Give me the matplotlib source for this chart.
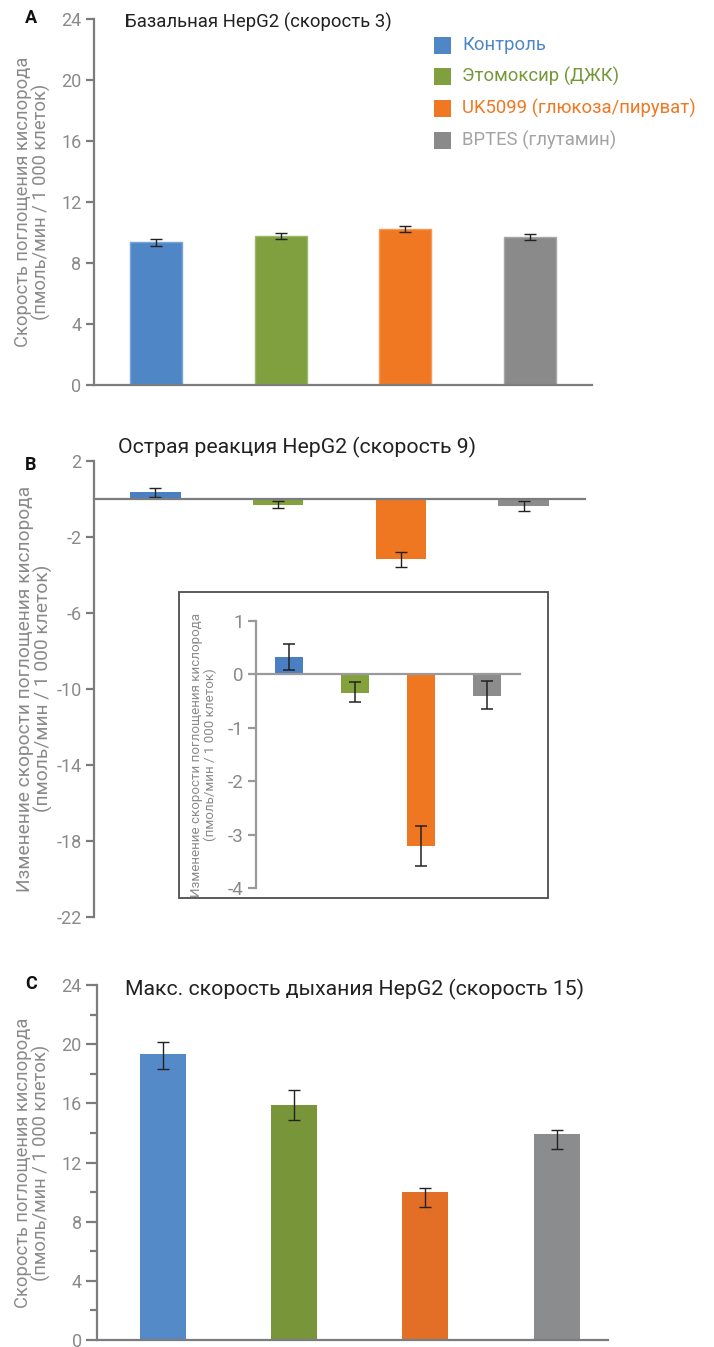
import matplotlib
matplotlib.use('Agg')
import matplotlib.pyplot as plt
from matplotlib import font_manager
from matplotlib.patches import Rectangle

# ---------------- data ----------------
categories = ['Контроль', 'Этомоксир (ДЖК)', 'UK5099 (глюкоза/пируват)', 'BPTES (глутамин)']

basal_values = [9.35, 9.80, 10.23, 9.72]
basal_err_low = [0.26, 0.22, 0.20, 0.20]
basal_err_high = [0.22, 0.18, 0.17, 0.17]

acute_values = [0.33, -0.34, -3.21, -0.40]
acute_err_low = [0.24, 0.17, 0.37, 0.24]
acute_err_high = [0.245, 0.20, 0.38, 0.27]

max_values = [19.34, 15.86, 10.00, 13.93]
max_err_low = [1.04, 1.01, 1.00, 1.03]
max_err_high = [0.83, 1.07, 0.28, 0.27]

title_a = 'Базальная HepG2 (скорость 3)'
title_b = 'Острая реакция HepG2 (скорость 9)'
title_c = 'Макс. скорость дыхания HepG2 (скорость 15)'
ylabel_rate = 'Скорость поглощения кислорода\n(пмоль/мин / 1 000 клеток)'
ylabel_change = 'Изменение скорости поглощения кислорода\n(пмоль/мин / 1 000 клеток)'

ticks_a = [0, 4, 8, 12, 16, 20, 24]
ticks_b = [2, -2, -6, -10, -14, -18, -22]
ticks_inset = [1, 0, -1, -2, -3, -4]
ticks_c = [0, 4, 8, 12, 16, 20, 24]

# ---------------- style ----------------
colors_a = ['#4f86c6', '#80a040', '#f07822', '#8a8a8a']
edges_a = ['#7aa3d6', '#9cb86a', '#f59a58', '#a6a6a6']
colors_b = ['#4a80c2', '#84a23c', '#f07722', '#8c8c8c']
colors_c = ['#558ac8', '#78953a', '#e36e25', '#8a8c8e']
legend_text_colors = ['#4f86c6', '#77983a', '#f07822', '#a3a3a3']

names = {f.name for f in font_manager.fontManager.ttflist}
base_font = 'Roboto' if 'Roboto' in names else 'DejaVu Sans'

plt.rcParams['font.family'] = [base_font, 'DejaVu Sans']
plt.rcParams['axes.unicode_minus'] = False

W, H = 714, 1347
fig = plt.figure(figsize=(W / 100, H / 100), dpi=100)

SPINE = '#7b7c7f'
TICKLAB = '#8a8a8a'


def ax_px(left, top, right, bottom):
    return fig.add_axes([left / W, 1 - bottom / H, (right - left) / W, (bottom - top) / H])


def style_axis(ax, fs=13, spine_w=1.6, color=SPINE, labcolor=TICKLAB, ticklen=6):
    for s in ['top', 'right']:
        ax.spines[s].set_visible(False)
    for s in ['left', 'bottom']:
        ax.spines[s].set_color(color)
        ax.spines[s].set_linewidth(spine_w)
    ax.tick_params(axis='y', colors=color, labelcolor=labcolor, labelsize=fs,
                   length=ticklen, width=spine_w, direction='out', pad=3)
    ax.tick_params(axis='x', bottom=False, labelbottom=False)
    ax.set_facecolor('none')


x = list(range(len(categories)))

# ---------------- Panel A ----------------
axA = ax_px(94, 19, 592, 385)
axA.bar(x, basal_values, width=0.42, color=colors_a, edgecolor=edges_a, linewidth=1.0, zorder=2)
axA.errorbar(x, basal_values, yerr=[basal_err_low, basal_err_high], fmt='none',
             ecolor='#222222', elinewidth=1.0, capsize=4.3, capthick=1.0, zorder=3)
axA.set_xlim(-0.5, 3.5)
axA.set_ylim(0, 24)
axA.set_yticks(ticks_a)
style_axis(axA)
axA.set_ylabel(ylabel_rate, fontsize=13.2, color=TICKLAB, linespacing=1.0)
axA.yaxis.set_label_coords(-(94 - 51) / 498, 0.5)
fig.text(125 / W, 1 - 22 / H, title_a, fontsize=13.3, color='#222222', va='center', ha='left')
fig.text(25 / W, 1 - 18 / H, 'A', fontsize=13, fontweight='bold', color='#111111', va='center', ha='left')

# legend (manual)
leg_rows = [45, 76, 108, 140]
for cat, col, tcol, yy in zip(categories, colors_a, legend_text_colors, leg_rows):
    fig.patches.append(Rectangle((434 / W, 1 - (yy + 8.5) / H), 17 / W, 17 / H,
                                 transform=fig.transFigure, facecolor=col, edgecolor='none'))
    fig.text(462 / W, 1 - yy / H, cat, fontsize=13.3, color=tcol, va='center', ha='left')

# ---------------- Panel B ----------------
axB = ax_px(94, 460.5, 585, 916.5)
axB.bar(x, acute_values, width=0.41, color=colors_b, zorder=2)
axB.errorbar(x, acute_values, yerr=[acute_err_low, acute_err_high], fmt='none',
             ecolor='#222222', elinewidth=1.0, capsize=4.3, capthick=1.0, zorder=3)
axB.set_xlim(-0.5, 3.5)
axB.set_ylim(-22, 2)
axB.set_yticks(ticks_b)
style_axis(axB)
axB.spines['bottom'].set_position(('data', 0))
axB.spines['bottom'].set_zorder(4)
axB.set_ylabel(ylabel_change, fontsize=13.8, color=TICKLAB, linespacing=1.0)
axB.yaxis.set_label_coords(-(94 - 53) / 491, 0.5)
fig.text(118 / W, 1 - 447 / H, title_b, fontsize=15.3, color='#222222', va='center', ha='left')
fig.text(25 / W, 1 - 465 / H, 'B', fontsize=13, fontweight='bold', color='#111111', va='center', ha='left')

# inset frame
fig.patches.append(Rectangle((179 / W, 1 - 898 / H), (548 - 179) / W, (898 - 592) / H,
                             transform=fig.transFigure, facecolor='white', edgecolor='#4d4d4d',
                             linewidth=1.3, zorder=5))
axI = ax_px(256, 621, 520, 888)
axI.set_zorder(6)
axI.bar(x, acute_values, width=0.41, color=colors_b, zorder=2)
axI.errorbar(x, acute_values, yerr=[acute_err_low, acute_err_high], fmt='none',
             ecolor='#222222', elinewidth=1.1, capsize=4.6, capthick=1.1, zorder=3)
axI.set_xlim(-0.5, 3.5)
axI.set_ylim(-4, 1)
axI.set_yticks(ticks_inset)
style_axis(axI, fs=13.5, spine_w=1.6, color='#9a9a9a', labcolor='#8a8a8a', ticklen=6)
axI.spines['bottom'].set_position(('data', 0))
axI.spines['bottom'].set_zorder(4)
axI.set_ylabel(ylabel_change, fontsize=9.6, color='#8a8a8a', linespacing=1.1)
axI.yaxis.set_label_coords(-(256 - 217) / 264, 0.5)

# ---------------- Panel C ----------------
axC = ax_px(97, 985, 608, 1340)
axC.bar(x, max_values, width=0.35, color=colors_c, zorder=2)
axC.errorbar(x, max_values, yerr=[max_err_low, max_err_high], fmt='none',
             ecolor='#222222', elinewidth=1.0, capsize=4.3, capthick=1.0, zorder=3)
axC.set_xlim(-0.5, 3.39)
axC.set_ylim(0, 24)
axC.set_yticks(ticks_c)
axC.set_yticks([2, 6, 10, 14, 18, 22], minor=True)
style_axis(axC, fs=13, ticklen=8)
axC.tick_params(axis='y', which='minor', length=5, width=1.6, colors=SPINE)
axC.set_ylabel(ylabel_rate, fontsize=13.2, color=TICKLAB, linespacing=1.0)
axC.yaxis.set_label_coords(-(97 - 51) / 511, 0.5)
fig.text(125 / W, 1 - 989 / H, title_c, fontsize=15.3, color='#222222', va='center', ha='left')
fig.text(25 / W, 1 - 984 / H, 'C', fontsize=13, fontweight='bold', color='#111111', va='center', ha='left')

fig.savefig('out.png', dpi=100)
